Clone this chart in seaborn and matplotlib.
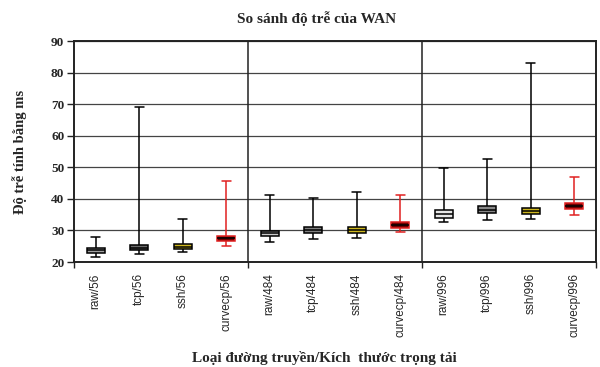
import numpy as np
import pandas as pd
import matplotlib
matplotlib.use("Agg")
import matplotlib.pyplot as plt
import seaborn as sns

categories = ["raw/56", "tcp/56", "ssh/56", "curvecp/56",
              "raw/484", "tcp/484", "ssh/484", "curvecp/484",
              "raw/996", "tcp/996", "ssh/996", "curvecp/996"]
mins = [21.5, 22.5, 23.2, 25.2, 26.3, 27.4, 27.7, 29.4, 32.7, 33.2, 33.7, 35.0]
q1s = [22.9, 23.8, 24.1, 26.6, 28.1, 29.1, 29.3, 30.9, 34.0, 35.4, 35.3, 36.7]
medians = [23.7, 24.5, 24.8, 27.5, 29.1, 30.1, 30.1, 31.7, 35.3, 36.6, 36.2, 37.7]
q3s = [24.3, 25.3, 25.6, 28.3, 29.8, 31.2, 31.0, 32.6, 36.4, 37.7, 37.2, 38.6]
maxs = [27.9, 69.2, 33.6, 45.8, 41.2, 40.4, 42.2, 41.2, 49.7, 52.8, 83.0, 46.8]

fills = ["#a0a0a0", "#6a6a6a", "#cdb61e", "#700000",
         "#cccccc", "#808080", "#cdb61e", "#700000",
         "#e6e6e6", "#878787", "#cdb61e", "#700000"]

# five values per box give exact quartiles with linear percentiles
rows = []
for i, c in enumerate(categories):
    for v in (mins[i], q1s[i], medians[i], q3s[i], maxs[i]):
        rows.append({"cat": c, "ms": v})
df = pd.DataFrame(rows)

sns.set_style("white")
fig = plt.figure(figsize=(6, 3.67), dpi=100)
ax = fig.add_axes([0.1233, 0.286, 0.87, 0.602])

sns.boxplot(data=df, x="cat", y="ms", hue="cat", order=categories,
            hue_order=categories, palette=fills, saturation=1, legend=False,
            whis=(0, 100), width=0.42, linecolor="black", linewidth=1.1,
            dodge=False, showfliers=False, ax=ax)

# curvecp boxes: red outline and whiskers, black median
for i, c in enumerate(categories):
    if c.startswith("curvecp"):
        ax.patches[i].set_edgecolor("#e02020")
for ln in ax.lines:
    xd = np.asarray(ln.get_xdata(), dtype=float)
    if xd.size == 0:
        continue
    idx = int(round(xd.mean()))
    if categories[idx].startswith("curvecp"):
        yd = np.asarray(ln.get_ydata(), dtype=float)
        if not (np.allclose(yd, medians[idx])):
            ln.set_color("#e02020")
    ln.set_zorder(3)

ax.set_ylim(20, 90)
ax.set_xlim(-0.5, len(categories) - 0.5)
ax.set_yticks(range(20, 91, 10))
ax.yaxis.grid(True, color="#444444", linewidth=0.9)
ax.set_axisbelow(True)
for xv in (3.5, 7.5):
    ax.axvline(xv, color="#222222", linewidth=1.1, zorder=1)
for s in ax.spines.values():
    s.set_color("#222222")
    s.set_linewidth(1.4)

ax.tick_params(axis="y", direction="out", length=5, width=1, color="#222222",
               left=True, pad=2)
ax.tick_params(axis="x", which="major", length=0, pad=8)
ax.set_xticks([-0.5, 3.5, 7.5, 11.5], minor=True)
ax.tick_params(axis="x", which="minor", direction="out", length=4, width=1,
               color="#222222", bottom=True)
ax.set_xticklabels(categories, rotation=90, fontsize=8.5,
                   family="Liberation Sans")
for t in ax.get_yticklabels():
    t.set_family("Liberation Serif")
    t.set_fontweight("bold")
    t.set_fontsize(9.5)

serif = {"family": "Liberation Serif", "fontweight": "bold"}
ax.set_title("So sánh độ trễ của WAN", fontsize=11, pad=13, x=0.464, **serif)
ax.set_ylabel("Độ trễ tính bằng ms", fontsize=10.5, labelpad=17, **serif)
ax.set_xlabel("Loại đường truyền/Kích  thước trọng tải", fontsize=11,
              labelpad=10, x=0.479, **serif)

fig.savefig("out.png", dpi=100)
